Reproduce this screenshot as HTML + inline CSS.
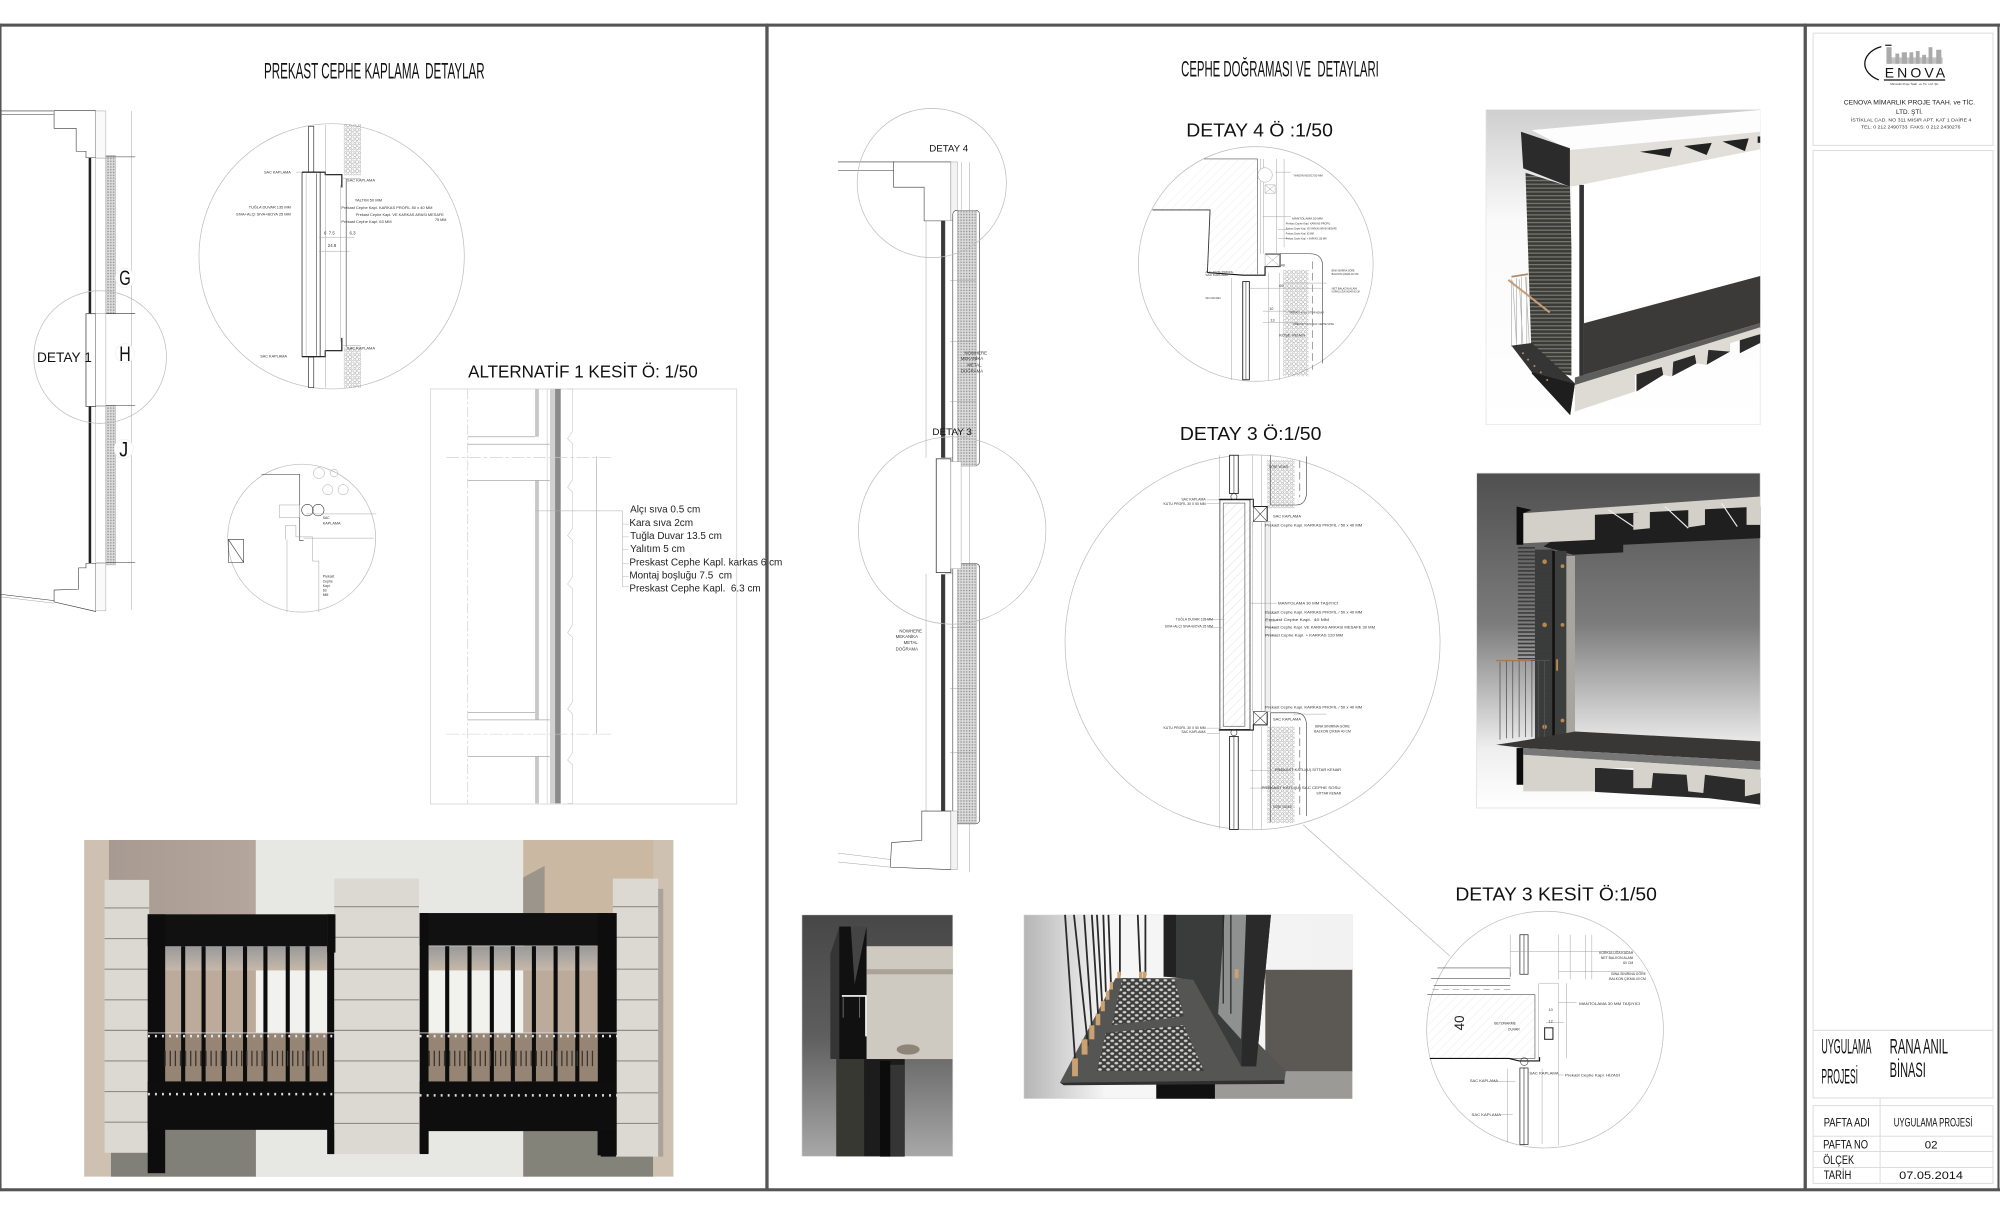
<!DOCTYPE html>
<html><head><meta charset="utf-8"><title>Cephe Detayları</title>
<style>
html,body{margin:0;padding:0;background:#fff;width:2000px;height:1214px;overflow:hidden}
svg{display:block;width:2000px;height:1214px}
text{font-family:"Liberation Sans",sans-serif;fill:#111;white-space:pre}
.t{font-size:2.7px;fill:#333}
.b{font-size:2.9px;fill:#222}
.l{font-size:8.2px;fill:#222}
.n{stroke:#333;stroke-width:.45}
.d{stroke:#111;stroke-width:.9}
.g{stroke:#999;stroke-width:.35}
.c{stroke:#bbb;stroke-width:.55}
.bx{stroke:#ddd;stroke-width:.8}
.hl{stroke:#8f8d86;stroke-width:.9}
</style></head><body>
<svg viewBox="0 0 1568 952" preserveAspectRatio="none" fill="none" xmlns="http://www.w3.org/2000/svg">
<defs>
<pattern id="dots" width="3.6" height="3.6" patternUnits="userSpaceOnUse"><circle cx="1" cy="1" r=".85" fill="none" stroke="#777" stroke-width=".32"/><circle cx="2.8" cy="2.8" r=".85" fill="none" stroke="#777" stroke-width=".32"/></pattern>
<pattern id="dots2" width="2.2" height="2.2" patternUnits="userSpaceOnUse"><rect width="2.2" height="2.2" fill="#dcdcdc"/><circle cx="1.1" cy="1.1" r=".6" fill="#8f8f8f"/></pattern>
<pattern id="hatch" width="5" height="5" patternUnits="userSpaceOnUse" patternTransform="rotate(-45)"><line x1="0" y1="0" x2="5" y2="0" stroke="#e2e2e2" stroke-width=".5"/></pattern>
<pattern id="louv" width="4" height="3" patternUnits="userSpaceOnUse"><rect width="4" height="3" fill="#3a3a36"/><rect width="4" height="1" fill="#777770"/></pattern>
<pattern id="louv2" width="4" height="3" patternUnits="userSpaceOnUse"><rect width="4" height="1.3" fill="#3c3c3c"/></pattern>
<pattern id="holes" width="6.4" height="5" patternUnits="userSpaceOnUse"><rect width="6.4" height="5" fill="#3e3e3c"/><ellipse cx="1.6" cy="1.2" rx="1.5" ry="1" fill="#cfcfcf"/><ellipse cx="4.8" cy="3.7" rx="1.5" ry="1" fill="#cfcfcf"/></pattern>
<linearGradient id="ga" x1="0" y1="0" x2="0" y2="1"><stop offset="0" stop-color="#cfcfcf"/><stop offset=".35" stop-color="#fafafa"/><stop offset="1" stop-color="#fff"/></linearGradient>
<linearGradient id="gb" x1="0" y1="0" x2="0" y2="1"><stop offset="0" stop-color="#4f4f4f"/><stop offset=".45" stop-color="#7c7c7c"/><stop offset=".82" stop-color="#eeeeee"/><stop offset="1" stop-color="#fff"/></linearGradient>
<linearGradient id="gc" x1="0" y1="0" x2="0" y2="1"><stop offset="0" stop-color="#474747"/><stop offset=".5" stop-color="#5e5e5e"/><stop offset="1" stop-color="#a8a8a8"/></linearGradient>
<linearGradient id="gd" x1="0" y1="0" x2="1" y2="0"><stop offset="0" stop-color="#b5b5b5"/><stop offset=".25" stop-color="#f6f6f6"/><stop offset="1" stop-color="#f2f2f2"/></linearGradient>
<linearGradient id="gw" x1="0" y1="0" x2="1" y2="0"><stop offset="0" stop-color="#a79a92"/><stop offset="1" stop-color="#b4a69c"/></linearGradient>
<linearGradient id="gi" x1="0" y1="0" x2="0" y2="1"><stop offset="0" stop-color="#999"/><stop offset="1" stop-color="#c6b8aa"/></linearGradient>
</defs>
<rect width="1568" height="952" fill="#fff"/>

<!-- LEFT TITLE -->
<text x="207" y="61.5" font-size="17.5" textLength="173" lengthAdjust="spacingAndGlyphs">PREKAST CEPHE KAPLAMA  DETAYLAR</text>

<!-- LEFT SECTION -->
<g>
<line x1="0" y1="87" x2="42" y2="87" class="n"/><line x1="0" y1="90" x2="42" y2="90" class="n"/>
<path d="M42.4 86.8V100.6H59.7V118.6H67.4V123.7H75V86.8Z" fill="#fff" class="n"/>
<rect x="75" y="87" width="8" height="37" fill="#fafafa" class="g"/>
<rect x="69.5" y="123.7" width="2" height="122" fill="#222"/>
<rect x="69.5" y="318.7" width="2" height="123" fill="#222"/>
<rect x="75" y="124" width="8" height="122" fill="#fff" class="g"/>
<rect x="75" y="319" width="8" height="122" fill="#fff" class="g"/>
<rect x="83" y="122" width="7.5" height="124" fill="url(#dots2)" class="g"/>
<rect x="83" y="318" width="7.5" height="125" fill="url(#dots2)" class="g"/>
<rect x="67.4" y="246" width="7.6" height="72.7" fill="#fff" stroke="#444" stroke-width=".6"/>
<rect x="75" y="246" width="8" height="72" fill="#fff" class="g"/>
<line x1="103" y1="87" x2="103" y2="478" class="g"/>
<line x1="83" y1="123" x2="106" y2="123" class="n"/><line x1="83" y1="246" x2="106" y2="246" class="n"/><line x1="83" y1="318" x2="106" y2="318" class="n"/><line x1="83" y1="441" x2="106" y2="441" class="n"/>
<path d="M67.4 441.7V445.3H61.6V462L42.4 462.7V472L75 479.5V441.7Z" fill="#fff" class="n"/>
<path d="M0 466L42.4 471" class="n"/><path d="M0 468L42.4 473" class="g"/>
<rect x="75" y="442" width="8" height="37" fill="#fafafa" class="g"/>
<circle cx="78.5" cy="280" r="52" class="c"/>
<text x="29" y="284" font-size="11" textLength="43" lengthAdjust="spacingAndGlyphs">DETAY 1</text>
<circle cx="98" cy="218" r="7.5" fill="#fff" stroke="#eee" stroke-width=".5"/><circle cx="98" cy="277" r="7.5" fill="#fff" stroke="#eee" stroke-width=".5"/><circle cx="97" cy="352" r="7.5" fill="#fff" stroke="#eee" stroke-width=".5"/>
<text x="93.5" y="223.5" font-size="17" textLength="9" lengthAdjust="spacingAndGlyphs">G</text>
<text x="93.5" y="283" font-size="17" textLength="9" lengthAdjust="spacingAndGlyphs">H</text>
<text x="93.5" y="358" font-size="17" textLength="7" lengthAdjust="spacingAndGlyphs">J</text>
</g>

<!-- LEFT BIG DETAIL CIRCLE -->
<g>
<circle cx="260" cy="201" r="104" class="c"/>
<rect x="269.5" y="97.5" width="13.5" height="40" fill="url(#dots)"/>
<rect x="269.5" y="272" width="13.5" height="32" fill="url(#dots)"/>
<rect x="242" y="99" width="4" height="36" fill="#fff" stroke="#222" stroke-width=".5"/>
<rect x="242" y="280" width="4" height="24" fill="#fff" stroke="#222" stroke-width=".5"/>
<rect x="236.8" y="135" width="14.2" height="144.7" fill="#fff" stroke="#333" stroke-width=".6"/>
<line x1="240" y1="136" x2="240" y2="279" class="g"/><line x1="248" y1="136" x2="248" y2="279" class="n"/>
<path d="M236.8 135H255V137H268V147" class="d"/>
<path d="M236.8 279.7H255V275H268V265" class="d"/>
<line x1="255.3" y1="98" x2="255.3" y2="304" class="g"/><line x1="271.4" y1="140" x2="271.4" y2="272" class="n"/><line x1="267" y1="145" x2="267" y2="268" class="g"/>
<path d="M283 140H268M283 271H268" class="g"/>
<line x1="232" y1="135" x2="236" y2="135" class="g"/>
<text class="t" x="207" y="136" textLength="21" lengthAdjust="spacingAndGlyphs">SAC KAPLAMA</text>
<text class="t" x="272" y="142.5" textLength="22" lengthAdjust="spacingAndGlyphs">SAC KAPLAMA</text>
<text class="t" x="278" y="158" textLength="21.5" lengthAdjust="spacingAndGlyphs">YALTIM 50 MM</text>
<text class="t" x="267.6" y="164" textLength="71.4" lengthAdjust="spacingAndGlyphs">Prekast Cephe Kapl. KARKAS PROFİL 50 x 40 MM</text>
<text class="t" x="195" y="163.4" textLength="33" lengthAdjust="spacingAndGlyphs">TUĞLA DUVAR 135 MM</text>
<text class="t" x="185" y="169" textLength="43" lengthAdjust="spacingAndGlyphs">SIVA+ALÇI SIVA+BOYA 25 MM</text>
<text class="t" x="279" y="169.4" textLength="69" lengthAdjust="spacingAndGlyphs">Prekast Cephe Kapl. VE KARKAS ARASI MESAFE</text>
<text class="t" x="341" y="173.3" textLength="9" lengthAdjust="spacingAndGlyphs">75 MM</text>
<text class="t" x="267.6" y="175" textLength="39.4" lengthAdjust="spacingAndGlyphs">Prekast Cephe Kapl. 63 MM</text>
<text class="t" x="254" y="184" style="font-size:3.4px">6  7.5</text><text class="t" x="274" y="184" style="font-size:3.4px">6.3</text><text class="t" x="257" y="193.5" style="font-size:3.4px">24.8</text>
<line x1="250" y1="186" x2="278" y2="186" class="g"/><line x1="250" y1="197" x2="274" y2="197" class="g"/>
<text class="t" x="204" y="280.5" textLength="21" lengthAdjust="spacingAndGlyphs">SAC KAPLAMA</text>
<text class="t" x="272" y="274" textLength="22" lengthAdjust="spacingAndGlyphs">SAC KAPLAMA</text>
</g>

<!-- LEFT SMALL CIRCLE -->
<g>
<circle cx="236.5" cy="422" r="58" class="c"/>
<circle cx="250" cy="371" r="4.3" class="g"/><circle cx="262" cy="371" r="3" class="g"/><circle cx="257" cy="384" r="4" class="g"/><circle cx="269" cy="384" r="4" class="g"/><circle cx="241" cy="400" r="4.5" class="n"/><circle cx="249.5" cy="400" r="4.5" class="n"/>
<path d="M205 372H235V424H238M235 372V378" class="n"/>
<path d="M219 396H235V406H219Z" class="g"/>
<path d="M224 423V412H232V421H245V440H250V480" class="g"/>
<path d="M225 423V480" class="g"/>
<path d="M179 423H191V441H179ZM179 423L191 441L182 441" class="n"/>
<line x1="238" y1="422" x2="293" y2="422" class="g"/>
<line x1="240" y1="403" x2="295" y2="403" class="g"/>
<text class="t" x="253" y="407">SAC</text><text class="t" x="253" y="411.5" textLength="14" lengthAdjust="spacingAndGlyphs">KAPLAMA</text>
<text class="t" x="253" y="453">Prekast</text><text class="t" x="253" y="456.7">Cephe</text><text class="t" x="253" y="460.4">Kapl.</text><text class="t" x="253" y="464">63</text><text class="t" x="253" y="467.5">MM</text>
</g>

<!-- ALTERNATIF -->
<g>
<text x="367" y="296" font-size="14" textLength="180" lengthAdjust="spacingAndGlyphs">ALTERNATİF 1 KESİT Ö: 1/50</text>
<rect x="337.5" y="305" width="240" height="325.5" fill="#fff" stroke="#ddd" stroke-width=".8"/>
<line x1="366.7" y1="305" x2="366.7" y2="630" stroke="#ccc" stroke-width=".5" stroke-dasharray="8 2 2 2"/>
<rect x="419.5" y="305" width="3" height="37.5" fill="#c8c8c8"/><rect x="419.5" y="376.5" width="3" height="188" fill="#c8c8c8"/><rect x="419.5" y="593" width="3" height="37" fill="#c8c8c8"/>
<rect x="431.2" y="305" width="4" height="325" fill="#d0d0d0"/><rect x="435.2" y="305" width="4.4" height="325" fill="#8a8a8a"/>
<line x1="429" y1="305" x2="429" y2="630" stroke="#ccc" stroke-width=".5"/>
<path d="M445 305H449V338L445 344L449 348V376L445 382L449 386V414L445 420L449 424V452L445 458L449 462V490L445 496L449 500V550L445 556L449 560V590L445 596L449 600V630H445" stroke="#ccc" stroke-width=".5"/>
<path d="M366.7 342.5H419.5M366.7 348.4H431M366.7 376.9H431M366.7 558.7H419.5M366.7 564.5H431M366.7 593.2H431" stroke="#aaa" stroke-width=".6"/>
<path d="M350 358.8H480" stroke="#ccc" stroke-width=".45" stroke-dasharray="10 2 3 2"/>
<path d="M350 575.7H480" stroke="#ccc" stroke-width=".45" stroke-dasharray="10 2 3 2"/>
<line x1="467.8" y1="358" x2="467.8" y2="576" stroke="#aaa" stroke-width=".5"/>
<path d="M419.5 400.6H488M488 400.6V460" stroke="#aaa" stroke-width=".4"/>
<path d="M488 411H493M488 421H493M488 431H493M488 442H493M488 452H493M488 460H493" stroke="#bbb" stroke-width=".4"/>
<text class="l" x="494" y="402" textLength="55" lengthAdjust="spacingAndGlyphs">Alçı sıva 0.5 cm</text>
<text class="l" x="493.4" y="412.4" textLength="50" lengthAdjust="spacingAndGlyphs">Kara sıva 2cm</text>
<text class="l" x="494" y="422.6" textLength="72" lengthAdjust="spacingAndGlyphs">Tuğla Duvar 13.5 cm</text>
<text class="l" x="494" y="433" textLength="43" lengthAdjust="spacingAndGlyphs">Yalıtım 5 cm</text>
<text class="l" x="493.4" y="443.5" textLength="120" lengthAdjust="spacingAndGlyphs">Preskast Cephe Kapl. karkas 6 cm</text>
<text class="l" x="493.4" y="453.7" textLength="80.5" lengthAdjust="spacingAndGlyphs">Montaj boşluğu 7.5  cm</text>
<text class="l" x="493.4" y="464" textLength="103" lengthAdjust="spacingAndGlyphs">Preskast Cephe Kapl.  6.3 cm</text>
</g>

<!-- FACADE RENDER -->
<g>
<rect x="66" y="658.7" width="462" height="264" fill="#cfc1b2"/>
<rect x="85.4" y="658.7" width="115" height="70" fill="url(#gw)"/>
<rect x="200.6" y="658.7" width="210.6" height="264" fill="#e7e8e4"/>
<rect x="410.2" y="658.7" width="102" height="66" fill="#cbb8a2"/>
<path d="M410.2 688L427 679V720H410.2Z" fill="#9c958c"/>
<rect x="87" y="884" width="113.6" height="38.7" fill="#807f78"/>
<rect x="410.2" y="884" width="101.8" height="38.7" fill="#83837a"/>
<rect x="82" y="690" width="35" height="214" fill="#dbd9d2"/>
<rect x="262" y="689" width="66.5" height="216" fill="#dbd9d2"/>
<rect x="480.5" y="689" width="35.5" height="218" fill="#dbd9d2"/>
<rect x="516" y="697" width="4" height="210" fill="#a9a39b"/>
<path d="M82 712H117M82 736H117M82 760H117M82 784H117M82 808H117M82 832H117M82 856H117M82 880H117M262 711H328.5M262 735H328.5M262 760H328.5M262 784H328.5M262 808H328.5M262 832H328.5M262 857H328.5M262 881H328.5M480.5 711H516M480.5 735H516M480.5 760H516M480.5 784H516M480.5 808H516M480.5 832H516M480.5 857H516M480.5 881H516" class="hl"/>
<!-- left window -->
<rect x="129.5" y="742" width="127" height="106" fill="#bcab9b"/>
<rect x="200.6" y="760" width="56" height="66" fill="#f1f1ee"/>
<rect x="129.5" y="742" width="127" height="19" fill="url(#gi)"/>
<rect x="129.5" y="810" width="127" height="38" fill="#968574"/>
<rect x="115.8" y="717" width="140.7" height="25" fill="#111"/>
<rect x="115.8" y="717" width="13.7" height="203" fill="#0d0d0d"/>
<rect x="256.5" y="717" width="6.5" height="30" fill="#111"/><rect x="256.5" y="717" width="5.5" height="188" fill="#0d0d0d"/>
<rect x="115.8" y="848" width="146" height="38" fill="#0e0e0e"/>
<g fill="#0c0c0c"><rect x="142" y="742" width="3.2" height="106"/><rect x="158" y="742" width="3.2" height="106"/><rect x="174" y="742" width="3.2" height="106"/><rect x="190.5" y="742" width="3.2" height="106"/><rect x="206.5" y="742" width="3.2" height="106"/><rect x="224" y="742" width="3.2" height="106"/><rect x="239.5" y="742" width="3.2" height="106"/></g>
<line x1="116" y1="810" x2="263" y2="810" stroke="#ddd" stroke-width=".7"/>
<line x1="116" y1="812.5" x2="263" y2="812.5" stroke="#e8e8e8" stroke-width="2" stroke-dasharray="1.5 4"/>
<line x1="116" y1="858" x2="263" y2="858" stroke="#ddd" stroke-width="2" stroke-dasharray="1.5 4"/>
<line x1="129" y1="830" x2="256" y2="830" stroke="#3a342e" stroke-width="12" stroke-dasharray="1 3"/>
<!-- right window -->
<rect x="336" y="742" width="132" height="106" fill="#f1f1ee"/>
<rect x="410.2" y="742" width="58" height="106" fill="#bcab9b"/>
<rect x="336" y="742" width="132" height="19" fill="url(#gi)"/>
<rect x="336" y="810" width="132" height="38" fill="#968574"/>
<rect x="329" y="716" width="147" height="25.5" fill="#111"/>
<rect x="329" y="716" width="7" height="188" fill="#0d0d0d"/>
<rect x="468.5" y="716" width="15" height="190" fill="#0d0d0d"/>
<rect x="329" y="848" width="154" height="39" fill="#0e0e0e"/>
<g fill="#0c0c0c"><rect x="349" y="742" width="3.2" height="106"/><rect x="366.5" y="742" width="3.2" height="106"/><rect x="384" y="742" width="3.2" height="106"/><rect x="400.5" y="742" width="3.2" height="106"/><rect x="417" y="742" width="3.2" height="106"/><rect x="434" y="742" width="3.2" height="106"/><rect x="451" y="742" width="3.2" height="106"/></g>
<line x1="329" y1="810" x2="484" y2="810" stroke="#ddd" stroke-width=".7"/>
<line x1="329" y1="812.5" x2="484" y2="812.5" stroke="#e8e8e8" stroke-width="2" stroke-dasharray="1.5 4"/>
<line x1="329" y1="859" x2="484" y2="859" stroke="#ddd" stroke-width="2" stroke-dasharray="1.5 4"/>
<line x1="336" y1="830" x2="468" y2="830" stroke="#3a342e" stroke-width="12" stroke-dasharray="1 3"/>
<rect x="116" y="886" width="9.5" height="20" fill="#0d0d0d"/><rect x="257" y="886" width="5" height="19" fill="#0d0d0d"/>
<rect x="329" y="887" width="7" height="18" fill="#0d0d0d"/><rect x="471" y="887" width="12" height="20" fill="#0d0d0d"/>
</g>

<!-- RIGHT PANEL TITLES -->
<text x="926" y="60" font-size="17.5" textLength="155" lengthAdjust="spacingAndGlyphs">CEPHE DOĞRAMASI VE  DETAYLARI</text>
<text x="930" y="107" font-size="14.5" textLength="115" lengthAdjust="spacingAndGlyphs">DETAY 4 Ö :1/50</text>
<text x="925" y="345" font-size="14.5" textLength="111" lengthAdjust="spacingAndGlyphs">DETAY 3 Ö:1/50</text>
<text x="1141" y="706" font-size="14.5" textLength="158" lengthAdjust="spacingAndGlyphs">DETAY 3 KESİT Ö:1/50</text>

<!-- RIGHT SECTION -->
<g>
<path d="M657 127H700.6M657 133.6H700.6" class="n"/>
<path d="M700.6 127V146.8H724.5V173.2H745.5V127Z" fill="#fff" class="n"/>
<rect x="745.5" y="127" width="5" height="46" fill="#f3f3f3" class="g"/>
<line x1="754" y1="127" x2="754" y2="165" class="g"/><line x1="760" y1="127" x2="760" y2="684" class="g"/>
<rect x="737.8" y="173" width="3.2" height="186" fill="#3a3a3a"/>
<rect x="737.8" y="450.4" width="3.2" height="186" fill="#3a3a3a"/>
<rect x="741" y="173" width="6" height="186" fill="#fff" class="g"/>
<rect x="741" y="450" width="6" height="186" fill="#fff" class="g"/>
<rect x="747" y="165" width="21" height="200" rx="3" fill="#fff" class="n"/>
<rect x="747" y="442" width="21" height="204" rx="3" fill="#fff" class="n"/>
<rect x="750.7" y="165" width="14.7" height="200.5" fill="url(#dots2)" class="g"/>
<rect x="750.7" y="442.5" width="14.7" height="202.5" fill="url(#dots2)" class="g"/>
<rect x="734" y="359.8" width="11.5" height="89.2" fill="#fff" stroke="#333" stroke-width=".6"/>
<rect x="745.5" y="362" width="8" height="84" fill="#fff" class="g"/>
<line x1="726" y1="173" x2="726" y2="359" class="g"/><line x1="726" y1="450" x2="726" y2="636" class="g"/>
<path d="M745 220H765M745 268H765M745 315H765M745 492H765M745 540H765M745 590H765" class="g"/>
<path d="M722.7 636H745.5V682L698 680L699 660.7L722.7 659Z" fill="#fff" class="n"/>
<path d="M657 669L698 674M657 676L698 680" class="g"/>
<rect x="745.5" y="636" width="5" height="46" fill="#f3f3f3" class="g"/>
<circle cx="730.5" cy="143.5" r="58.5" class="c"/>
<circle cx="746.5" cy="416" r="73.5" class="c"/>
<text x="728.5" y="119" font-size="7.5" textLength="30.5" lengthAdjust="spacingAndGlyphs">DETAY 4</text>
<text x="731" y="341" font-size="7.5" textLength="31" lengthAdjust="spacingAndGlyphs">DETAY 3</text>
<g text-anchor="middle"><text class="t" style="font-size:3.4px" x="765" y="278">NOWHERE</text><text class="t" style="font-size:3.4px" x="762" y="282.5">MEKANİKA</text><text class="t" style="font-size:3.4px" x="764" y="287.5">METAL</text><text class="t" style="font-size:3.4px" x="762" y="292">DOĞRAMA</text>
<text class="t" style="font-size:3.4px" x="714" y="496">NOWHERE</text><text class="t" style="font-size:3.4px" x="711" y="500.5">MEKANİKA</text><text class="t" style="font-size:3.4px" x="714" y="505">METAL</text><text class="t" style="font-size:3.4px" x="711" y="510">DOĞRAMA</text></g>
</g>

<!-- DETAY 4 CIRCLE -->
<g>
<circle cx="984.5" cy="207" r="92" class="c"/>
<path d="M903.5 164.6H948.7L946.6 213.7L974.8 215.8H985.8V124.6H944L903.5 164.6Z" fill="url(#hatch)"/>
<path d="M903.5 164.6H948.7L946.6 213.7" stroke="#333" stroke-width=".7"/>
<path d="M946.6 213.7L974.8 215.8H991.8V209H1003.6V199.1H991.8" stroke="#111" stroke-width=".9"/>
<path d="M944 124.6H985.8V215" stroke="#555" stroke-width=".5"/>
<path d="M988.4 124.6V199M990.5 124.6V199M1000.9 124.6V199M1006.7 124.6V194" class="g"/>
<circle cx="991.8" cy="137.2" r="5.7" fill="#fff" class="g"/>
<path d="M991.8 145H999.7V151.5H991.8ZM991.8 145L999.7 151.5M999.7 145L991.8 151.5" class="g"/>
<path d="M991.8 199H1003.6V209H991.8ZM991.8 199L1003.6 209M1003.6 199L991.8 209" class="g"/>
<rect x="974.3" y="220.8" width="5.2" height="77" fill="#fff" stroke="#222" stroke-width=".7"/>
<line x1="976.8" y1="221" x2="976.8" y2="298" stroke="#555" stroke-width=".5"/>
<rect x="1006" y="211.6" width="19.8" height="83.4" fill="url(#dots)"/>
<path d="M1003.6 199H1027Q1037 199 1037 209V285" class="n"/>
<path d="M1029 205V290" stroke="#888" stroke-width=".6" stroke-dasharray="6 3"/>
<path d="M965.7 218V298M994.4 214V298M1003 214V298" class="g"/>
<path d="M979 226H1036M1006 222H1040M990 244H1018M990 253H1018" class="g"/>
<path d="M1000 135H1012M990 170H1012M1002 180H1010M1002 187H1010" class="g"/>
<g>
<text class="t" x="1014" y="138.5" style="font-size:2px" textLength="23" lengthAdjust="spacingAndGlyphs">YANGIN KESİCİ 50 MM</text>
<text class="t" x="1013" y="172" style="font-size:2px" textLength="24" lengthAdjust="spacingAndGlyphs">MANTOLAMA 50 MM</text>
<text class="t" x="1008" y="176" style="font-size:2px" textLength="35" lengthAdjust="spacingAndGlyphs">Prekast Cephe Kapl. KARKAS PROFİL</text>
<text class="t" x="1008" y="180" style="font-size:2px" textLength="40" lengthAdjust="spacingAndGlyphs">Prekast Cephe Kapl. VE KARKAS ARASI MESAFE</text>
<text class="t" x="1008" y="184" style="font-size:2px" textLength="22" lengthAdjust="spacingAndGlyphs">Prekast Cephe Kapl. 63 MM</text>
<text class="t" x="1008" y="188" style="font-size:2px" textLength="32" lengthAdjust="spacingAndGlyphs">Prekast Cephe Kapl. + KARKAS 120 MM</text>
<text class="t" x="1044" y="213" style="font-size:2px" textLength="18" lengthAdjust="spacingAndGlyphs">BİNA SINIRINA GÖRE</text>
<text class="t" x="1044" y="215.5" style="font-size:2px" textLength="21" lengthAdjust="spacingAndGlyphs">BALKON ÇIKMA 40 CM</text>
<text class="t" x="1044" y="227" style="font-size:2px" textLength="20" lengthAdjust="spacingAndGlyphs">NET BALKON ALANI</text>
<text class="t" x="1044" y="229.5" style="font-size:2px" textLength="22" lengthAdjust="spacingAndGlyphs">KORKULUĞA KADAR 60 CM</text>
<text class="t" x="1011" y="246" style="font-size:2px" textLength="27" lengthAdjust="spacingAndGlyphs">PREKAST KATLI SİTTAR KENAR</text>
<text class="t" x="1014" y="255" style="font-size:2px" textLength="32" lengthAdjust="spacingAndGlyphs">PREKAST KATLI SAC CEPHE SOSU</text>
<text class="t" x="1003" y="264" style="font-size:3px" textLength="20" lengthAdjust="spacingAndGlyphs">KÖŞE VİDASI</text>
<text class="t" x="945" y="214" style="font-size:2px" textLength="22" lengthAdjust="spacingAndGlyphs">ALU. KUTU PROFİL</text>
<text class="t" x="945" y="216.5" style="font-size:2px" textLength="18" lengthAdjust="spacingAndGlyphs">SAC KAPLAMA</text>
<text class="t" x="945" y="234.5" style="font-size:2px" textLength="12" lengthAdjust="spacingAndGlyphs">SAC KAPLAMA</text>
<text class="t" x="1004" y="209" style="font-size:3px">40</text><text class="t" x="1003" y="225" style="font-size:3px">69</text><text class="t" x="995" y="243" style="font-size:3px">10</text><text class="t" x="996" y="252" style="font-size:3px">13</text>
</g>
</g>

<!-- DETAY 3 CIRCLE -->
<g>
<circle cx="982" cy="503.7" r="147" class="c"/>
<path d="M1021.7 646.8L1137 750" stroke="#bbb" stroke-width=".55"/>
<path d="M996 357V396H1016Q1024.4 396 1024.4 385V358" class="n"/>
<path d="M996 645V559H1016Q1024.4 559 1024.4 570V640" class="n"/>
<rect x="993.5" y="360.6" width="21.5" height="38" fill="url(#dots)"/>
<rect x="993.5" y="569.7" width="21.5" height="75.8" fill="url(#dots)"/>
<path d="M1019 361V390M1019 570V642" stroke="#777" stroke-width=".6" stroke-dasharray="6 3"/>
<rect x="956.4" y="392" width="23.6" height="180" fill="url(#hatch)" stroke="#333" stroke-width=".6"/>
<rect x="959" y="394.5" width="17" height="175" fill="url(#hatch)" stroke="#444" stroke-width=".45"/>
<path d="M955.5 391.5H982.6V397.2H993.5V409M955.5 572.5H982.6V568.4H993.5V558" stroke="#111" stroke-width=".8"/>
<rect x="964" y="357" width="6.8" height="30" fill="#fff" stroke="#222" stroke-width=".7"/>
<rect x="964" y="577.5" width="6.8" height="73" fill="#fff" stroke="#222" stroke-width=".7"/>
<path d="M967.4 357V387M967.4 577.5V650" stroke="#444" stroke-width=".5"/>
<circle cx="967.4" cy="389.5" r="2.4" class="n"/><circle cx="967.4" cy="574.5" r="2.4" class="n"/>
<path d="M956 357V390M956 573V650M982 357V392M982 573V650M989 357V397M989 570V650" class="g"/>
<path d="M982.6 397.2H993.5V409H982.6ZM982.6 397.2L993.5 409M993.5 397.2L982.6 409" class="n"/>
<path d="M982.6 558H993.5V568.4H982.6ZM982.6 558L993.5 568.4M993.5 558L982.6 568.4" class="n"/>
<path d="M982 409V558M989 409V558M991.7 409V558M996 409V558" class="g"/>
<rect x="992" y="409" width="4" height="149" fill="#f0f0f0" class="g"/>
<path d="M980 473H1001M992 481H1000M992 487H1000M992 492H1000M992 498H1000M945 486H960M948 492H958M946 392H956M946 395H956M946 571H956M946 575H956M1014 560H1040M980 604H1010M980 618H1003" class="g"/>
<g>
<text class="t" x="945.2" y="392.5" text-anchor="end">SAC KAPLAMA</text>
<text class="t" x="945.2" y="396" text-anchor="end">KUTU PROFİL 30 X 50 MM</text>
<text class="t" x="998" y="406" textLength="22" lengthAdjust="spacingAndGlyphs">SAC KAPLAMA</text>
<text class="t" x="992" y="413" textLength="76" lengthAdjust="spacingAndGlyphs">Prekast Cephe Kapl. KARKAS PROFİL / 50 x 40 MM</text>
<text class="t" x="1002" y="474" textLength="47" lengthAdjust="spacingAndGlyphs">MANTOLAMA 30 MM TAŞIYICI</text>
<text class="t" x="992" y="481" textLength="76" lengthAdjust="spacingAndGlyphs">Prekast Cephe Kapl. KARKAS PROFİL / 50 x 40 MM</text>
<text class="t" x="992" y="487" textLength="50" lengthAdjust="spacingAndGlyphs">Prekast Cephe Kapl.  40 MM</text>
<text class="t" x="992" y="493" textLength="86" lengthAdjust="spacingAndGlyphs">Prekast Cephe Kapl. VE KARKAS ARKASI MESAFE 30 MM</text>
<text class="t" x="992" y="499" textLength="61" lengthAdjust="spacingAndGlyphs">Prekast Cephe Kapl. + KARKAS 120 MM</text>
<text class="t" x="951" y="486.5" text-anchor="end">TUĞLA DUVAR 135 MM</text>
<text class="t" x="951" y="492.2" text-anchor="end">SIVA+ALÇI SIVA+BOYA 25 MM</text>
<text class="t" x="992" y="555.5" textLength="76" lengthAdjust="spacingAndGlyphs">Prekast Cephe Kapl. KARKAS PROFİL / 50 x 40 MM</text>
<text class="t" x="998" y="565" textLength="22" lengthAdjust="spacingAndGlyphs">SAC KAPLAMA</text>
<text class="t" x="945.2" y="571.8" text-anchor="end">KUTU PROFİL 30 X 50 MM</text>
<text class="t" x="945.2" y="575" text-anchor="end">SAC KAPLAMA</text>
<text class="t" x="1044.7" y="570.5" text-anchor="middle">BİNA SINIRINA GÖRE</text>
<text class="t" x="1044.7" y="574.5" text-anchor="middle">BALKON ÇIKMA 40 CM</text>
<text class="t" x="999.5" y="604.5" textLength="52" lengthAdjust="spacingAndGlyphs">PREKAST KATLI(U) SİTTAR KENAR</text>
<text class="t" x="989" y="618.8" textLength="62" lengthAdjust="spacingAndGlyphs">PREKAST KATLI(U) SAC CEPHE SOSU</text>
<text class="t" x="1051.5" y="623" text-anchor="end">SİTTAR KENAR</text>
<text class="t" x="998" y="633.5" textLength="15" lengthAdjust="spacingAndGlyphs">KÖŞE VİDASI</text>
<text class="t" x="995" y="367" textLength="15" lengthAdjust="spacingAndGlyphs">KÖŞE VİDASI</text>
</g>
</g>

<!-- DETAY 3 KESIT CIRCLE -->
<g>
<circle cx="1211.3" cy="807.4" r="92.8" class="c"/>
<path d="M1119 780H1203.4V830H1121Q1117 805 1119 780Z" fill="url(#hatch)"/>
<path d="M1127 759H1184V766M1122 767.5H1184M1124 773H1184M1119 780H1203.4V830H1121" stroke="#555" stroke-width=".5"/>
<line x1="1123" y1="776" x2="1184" y2="776" stroke="#999" stroke-width=".5" stroke-dasharray="5 3"/>
<path d="M1121 830H1183L1191 832H1207V829" stroke="#111" stroke-width=".9"/>
<rect x="1191.6" y="733" width="6.4" height="31" fill="#fff" stroke="#333" stroke-width=".6"/>
<line x1="1194.8" y1="733" x2="1194.8" y2="764" stroke="#333" stroke-width=".5"/>
<rect x="1191.6" y="837.5" width="6.4" height="60" fill="#fff" stroke="#333" stroke-width=".6"/>
<line x1="1194.8" y1="837" x2="1194.8" y2="898" stroke="#333" stroke-width=".5"/>
<circle cx="1195" cy="832.5" r="3" class="n"/>
<path d="M1206 771V831M1221.7 771V898M1207 771H1221.7M1209 838V897" class="g"/>
<rect x="1211" y="806" width="6.5" height="9" fill="#fff" stroke="#222" stroke-width=".8"/>
<path d="M1184 733V762M1222 733V768M1231 733V768M1243 733V768M1248 733V768M1182 838V896M1228 771V830" class="g"/>
<path d="M1184 746H1278M1222 762H1288M1222 786H1236M1212 802H1226M1222 843H1226M1172 848H1188M1176 874H1186" class="g"/>
<text transform="translate(1147.8 808) rotate(-90)" font-size="10.5" style="fill:#222">40</text>
<text class="t" x="1180" y="803.5" text-anchor="middle">BETONARME</text><text class="t" x="1191.5" y="808" text-anchor="end">DUVAR</text>
<text class="t" x="1280.5" y="748" text-anchor="end">KORKULUĞA KADAR</text><text class="t" x="1280.5" y="752" text-anchor="end">NET BALKON ALANI</text><text class="t" x="1280.5" y="756" text-anchor="end">60 CM</text>
<text class="t" x="1290.4" y="764.5" text-anchor="end">BİNA SINIRINA GÖRE</text><text class="t" x="1290.4" y="768.5" text-anchor="end">BALKON ÇIKMA 40 CM</text>
<text class="t" x="1238" y="788" textLength="48" lengthAdjust="spacingAndGlyphs">MANTOLAMA 30 MM TAŞIYICI</text>
<text class="t" x="1227" y="844" textLength="43" lengthAdjust="spacingAndGlyphs">Prekast Cephe Kapl. HİZASI</text>
<text class="t" x="1199" y="842.5" textLength="23" lengthAdjust="spacingAndGlyphs">SAC KAPLAMA</text>
<text class="t" x="1152.4" y="848.5" textLength="22" lengthAdjust="spacingAndGlyphs">SAC KAPLAMA</text>
<text class="t" x="1153.7" y="875" textLength="23" lengthAdjust="spacingAndGlyphs">SAC KAPLAMA</text>
<text class="t" x="1214" y="793" style="font-size:3px">10</text><text class="t" x="1214" y="802" style="font-size:3px">12</text>
</g>

<!-- RENDER A -->
<g>
<rect x="1165" y="86" width="215" height="247" fill="url(#ga)" stroke="#e5e5e5" stroke-width=".6"/>
<path d="M1235 118L1380 103V220L1235 250Z" fill="#fff"/>
<path d="M1200.8 102L1380 86.3V103.3L1230.8 117.6Z" fill="#fdfdfd"/>
<path d="M1230.8 118L1380 103.3V117L1234 146L1231 146Z" fill="#e2dfda"/>
<path d="M1285.7 119L1311 115.8L1309 123ZM1320.2 114.5L1342 112L1338 121.5ZM1350.5 111L1371 108.5L1368 118.5Z" fill="#222"/>
<rect x="1378" y="107" width="2" height="5" fill="#222"/>
<path d="M1192.4 103.3L1230.8 116.3V146.4L1194.2 132Z" fill="#2b2b2b"/>
<path d="M1196 135.5L1230.8 146.4L1234.7 295.3L1201 287.5Z" fill="url(#louv)"/>
<rect x="1232" y="146" width="6" height="150" fill="#fff"/>
<rect x="1238.2" y="145" width="3.6" height="150" fill="#333"/>
<path d="M1241.8 253.5L1380 216.4V253.5L1241.8 294Z" fill="#3c3a38"/>
<path d="M1234.7 296L1380 253.5V257L1234.7 302Z" fill="#5e5e5c"/>
<path d="M1283 292.7L1304 287.5L1304 294L1283 307ZM1311.8 283.6L1328.8 278.3L1330 285L1311 295ZM1339.3 274.4L1356.3 269.2V275.7L1338 286ZM1364 266L1380 262V269L1364 277Z" fill="#2b2b2b"/>
<path d="M1234.7 301.9L1380 256.6V262L1356.3 269.2V275.7L1339.3 274.4L1338 286.2L1330 284.9L1328.8 278.3L1311.8 283.6L1310.5 295.3L1304 294L1302.7 287.5L1281.8 294V307L1234.7 322.7Z" fill="#dedbd5"/>
<path d="M1185 219V272M1189 218V271M1193 217V270M1197 217V270M1186 220L1189 270M1191 219L1194 270M1196 217L1199 270" stroke="#aaa" stroke-width=".5"/>
<path d="M1185 217L1198 215" stroke="#b58968" stroke-width="1.4"/>
<path d="M1182.5 219.5L1215 245" stroke="#c79c78" stroke-width="1.6"/>
<path d="M1185 271L1201 269L1234.7 300.5L1231 325.5L1201 292Z" fill="#353535"/>
<path d="M1201 293L1231 325.5L1234.7 301L1201 292Z" fill="#1e1e1e"/>
<g fill="#b58968"><circle cx="1194" cy="277" r=".8"/><circle cx="1198" cy="282" r=".8"/><circle cx="1203" cy="287" r=".8"/><circle cx="1208" cy="292" r=".8"/><circle cx="1213" cy="298" r=".8"/></g>
</g>

<!-- RENDER B -->
<g>
<rect x="1157.7" y="371" width="222.3" height="262.6" fill="url(#gb)" stroke="#ddd" stroke-width=".6"/>
<path d="M1250.4 403.7L1380 397V422L1272.6 427.2V433.2L1233.4 435L1210 428.5Z" fill="#1f1f1f"/>
<path d="M1194.2 402.4L1380 389.3V397.2L1250.4 403.7V423.3L1194.2 426Z" fill="#d3d0ca"/>
<path d="M1189 397.2L1200.8 399.8L1194.2 402.4V427.2H1189Z" fill="#0d0d0d"/>
<path d="M1280.5 402.4L1293.5 401V414.2L1280.5 415.5ZM1323.6 399.8L1336.7 398.5V411.6L1323.6 413.6ZM1369.3 397.2L1380 395.9V411.6H1369.3Z" fill="#d3d0ca"/>
<path d="M1260.9 399.8L1280.5 412.9M1305.3 397.2L1323.6 414.2M1349.7 394.6L1362 412.9" stroke="#eee" stroke-width=".9"/>
<path d="M1190 428.5H1203.4V517H1190Z" fill="url(#louv2)"/>
<rect x="1203.4" y="431" width="14.6" height="149" fill="#3a3c3b"/>
<path d="M1204 431H1218V580H1204Z" fill="url(#louv2)"/>
<rect x="1218" y="432" width="10.2" height="148" fill="#3d3f3e"/>
<rect x="1217" y="432" width="2" height="150" fill="#111"/>
<path d="M1228 436H1234.8V573.6L1228 575Z" fill="#a8a59e"/>
<g fill="#b58a4a"><circle cx="1211" cy="440.5" r="1.8"/><circle cx="1225" cy="444" r="1.5"/><circle cx="1211" cy="490" r="1.8"/><circle cx="1225" cy="490" r="1.5"/><circle cx="1211" cy="570" r="1.8"/><circle cx="1225" cy="565" r="1.5"/><rect x="1220" y="517" width="1.5" height="9"/></g>
<path d="M1176 518H1215M1176 519V580M1181 518V579M1186 518V579M1191 518V578M1196 518V578M1201 518V578M1206 518V578M1211 518V578" stroke="#555" stroke-width=".6"/>
<path d="M1173 518H1200" stroke="#a9784e" stroke-width="1"/>
<path d="M1173 584L1190 581.5L1234.8 573.6L1380 581.4V597L1194.2 586.6Z" fill="#393735"/>
<path d="M1194.2 586.6L1380 597V603.6L1194.2 591.9Z" fill="#777"/>
<path d="M1250.4 602L1380 610V631L1340 626L1250.4 621Z" fill="#2b2b2b"/>
<path d="M1194.2 591.9L1380 603.6V621.9L1368 624.5V611.5L1336.7 607.5L1335.4 621.9L1323.6 620.6L1322.3 607.5L1296 606.2L1294.8 618H1280.5V602.3H1250.4V620.6H1194.2Z" fill="#d6d3cd"/>
<rect x="1189" y="586.6" width="5.2" height="28.8" fill="#0d0d0d"/>
</g>

<!-- RENDER C -->
<g>
<rect x="628.7" y="717.4" width="118.3" height="189.4" fill="url(#gc)" stroke="#ddd" stroke-width=".5"/>
<path d="M651 748L658 726.5H679L679.4 830.5H651Z" fill="#353535"/>
<path d="M658 726.5H679.4V830.5H658Z" fill="#111"/>
<path d="M667 726.5L679.4 726.5L670 772Z" fill="#444"/>
<rect x="679.4" y="742" width="67.6" height="88.5" fill="#cfcac1"/>
<rect x="679.4" y="760" width="67.6" height="4" fill="#a9a398"/>
<ellipse cx="712" cy="823" rx="9" ry="4" fill="#8d8578"/>
<path d="M660 781H678.9V812.7" stroke="#fff" stroke-width="1.2"/>
<path d="M661 782V798M674 782V798" stroke="#999" stroke-width=".5"/>
<path d="M655.6 830.5H677.4V906.8H655.6Z" fill="#383833"/>
<rect x="677.4" y="830.5" width="31.9" height="76.3" fill="#1c1c1c"/>
<rect x="690" y="832" width="8" height="75" fill="#0c0c0c"/>
<rect x="698" y="835" width="11" height="72" fill="#353535"/>
</g>

<!-- RENDER D -->
<g>
<rect x="802.7" y="717.4" width="257.5" height="144.2" fill="url(#gd)" stroke="#e6e6e6" stroke-width=".5"/>
<rect x="992" y="760.5" width="68.2" height="79.8" fill="#5c5853"/>
<rect x="947" y="840" width="113.2" height="21.6" fill="#9b9a96"/>
<rect x="906.5" y="848" width="46" height="13.6" fill="#101010"/>
<path d="M831 849L874.6 767H936L1008 840L1007 848L935 849Z" fill="#555553"/>
<path d="M880 767L921 768L928 797L871.6 804Z" fill="url(#holes)"/>
<path d="M867 810L928 804L944 840L860 840Z" fill="url(#holes)"/>
<path d="M831 849L1007 847V850L834 851Z" fill="#303030"/>
<path d="M912.3 717.4H996.4L984.8 836.2H973.2L935.5 768.3L912.3 765.7Z" fill="#3a3b3b"/>
<path d="M912.3 717.4H922V766H912.3Z" fill="#222"/>
<path d="M960 717.4H977L973 815L955 795Z" fill="#8f9090"/>
<path d="M977 717.4H996.4L984.8 836.2H973.2Z" fill="#2a2a2a"/>
<path d="M959 717.4V787M965 717.4V795" stroke="#222" stroke-width=".9"/>
<path d="M835 717.4L843 833M842 717.4L853 820M850 717.4L856 805M856 717.4L861 797M860 717.4L864 786M865 717.4L867 778M869 717.4L871 772M878 717.4L878 765M892 717.4L894 765M898 717.4L898 765" stroke="#2a2a2a" stroke-width="1.4"/>
<g fill="#caa170"><rect x="840.5" y="830" width="4.6" height="14"/><rect x="848" y="815" width="4.6" height="12"/><rect x="854" y="804" width="4" height="11"/><rect x="859" y="795" width="3.6" height="9"/><rect x="863" y="785" width="3.2" height="8"/><rect x="867" y="777" width="2.8" height="7"/><rect x="870" y="770" width="2.6" height="6"/><rect x="876" y="762" width="2.6" height="5"/><rect x="893" y="762" width="2.6" height="5"/><rect x="896" y="762" width="2.6" height="5"/><rect x="968" y="760" width="3" height="7"/></g>
</g>

<!-- TITLE BLOCK -->
<g>
<rect x="1421.5" y="26" width="141" height="88" class="bx"/>
<rect x="1421.5" y="118" width="141" height="690" class="bx"/>
<rect x="1421.5" y="808" width="141" height="53" class="bx"/>
<rect x="1421.5" y="867" width="141" height="61" class="bx"/>
<path d="M1421.5 891H1562.5M1421.5 903H1562.5M1421.5 915.5H1562.5" class="bx"/>
<path d="M1474 861V928" class="bx"/>
<path d="M1475 36.6C1466 39 1462 45 1462 50C1462 55 1466 60 1473 62.7" stroke="#111" stroke-width="1"/>
<g fill="#aaa"><rect x="1479" y="37" width="4" height="13"/><rect x="1486" y="42" width="3" height="8"/><rect x="1491" y="41" width="4" height="9"/><rect x="1497" y="41" width="3" height="9"/><rect x="1502" y="40" width="3" height="10"/><rect x="1507" y="43" width="3" height="7"/><rect x="1512" y="37" width="3" height="13"/><rect x="1518" y="39" width="4" height="11"/><rect x="1479" y="45" width="44" height="5" fill-opacity=".7"/></g>
<line x1="1478" y1="35.5" x2="1483" y2="35.5" stroke="#222" stroke-width="1"/>
<text x="1477.6" y="60.6" font-size="11" textLength="47.4" lengthAdjust="spacing">ENOVA</text>
<line x1="1477" y1="62.7" x2="1525" y2="62.7" stroke="#111" stroke-width="1"/>
<text class="t" x="1501" y="66.8" text-anchor="middle" style="font-size:2.4px">Mimarlık Proje Taah. ve Tic. Ltd. Şti.</text>
<text x="1445.5" y="82" font-size="5" textLength="103" lengthAdjust="spacingAndGlyphs" style="fill:#222">CENOVA MİMARLIK PROJE TAAH. ve TİC.</text>
<text x="1497" y="89.3" font-size="5" text-anchor="middle" style="fill:#222">LTD. ŞTİ.</text>
<text x="1451" y="95.3" font-size="3.6" textLength="94.6" lengthAdjust="spacingAndGlyphs" style="fill:#333">İSTİKLAL CAD. NO 311 MISIR APT. KAT 1 DAİRE 4</text>
<text x="1459" y="100.8" font-size="3.6" textLength="78" lengthAdjust="spacingAndGlyphs" style="fill:#333">TEL: 0 212 2490733  FAKS: 0 212 2430276</text>
<text x="1428" y="826" font-size="16.5" textLength="39.2" lengthAdjust="spacingAndGlyphs">UYGULAMA</text>
<text x="1428" y="849.5" font-size="16.5" textLength="28.7" lengthAdjust="spacingAndGlyphs">PROJESİ</text>
<text x="1481.5" y="826" font-size="16.5" textLength="45.8" lengthAdjust="spacingAndGlyphs">RANA ANIL</text>
<text x="1481.5" y="844.5" font-size="16.5" textLength="28.3" lengthAdjust="spacingAndGlyphs">BİNASI</text>
<text x="1429.8" y="883.3" font-size="9.5" textLength="36.1" lengthAdjust="spacingAndGlyphs">PAFTA ADI</text>
<text x="1484.7" y="883.3" font-size="9.5" textLength="61.7" lengthAdjust="spacingAndGlyphs">UYGULAMA PROJESİ</text>
<text x="1429.3" y="900.8" font-size="9.5" textLength="35.3" lengthAdjust="spacingAndGlyphs">PAFTA NO</text>
<text x="1514" y="900.8" font-size="9" text-anchor="middle">02</text>
<text x="1429.3" y="912.6" font-size="9.5" textLength="24.3" lengthAdjust="spacingAndGlyphs">ÖLÇEK</text>
<text x="1429.8" y="924.6" font-size="9.5" textLength="21.7" lengthAdjust="spacingAndGlyphs">TARİH</text>
<text x="1488.9" y="924.6" font-size="9" textLength="50.1" lengthAdjust="spacingAndGlyphs">07.05.2014</text>
</g>

<!-- FRAMES -->
<g fill="#555">
<rect x="0" y="18.5" width="1568" height="2.4"/>
<rect x="0" y="931.8" width="1568" height="2.4"/>
<rect x="0" y="18.5" width="1.2" height="915"/>
<rect x="600" y="18.5" width="2.6" height="915"/>
<rect x="1414" y="18.5" width="2.6" height="915"/>
<rect x="1566" y="18.5" width="1.6" height="915"/>
</g>
</svg>
</body></html>
